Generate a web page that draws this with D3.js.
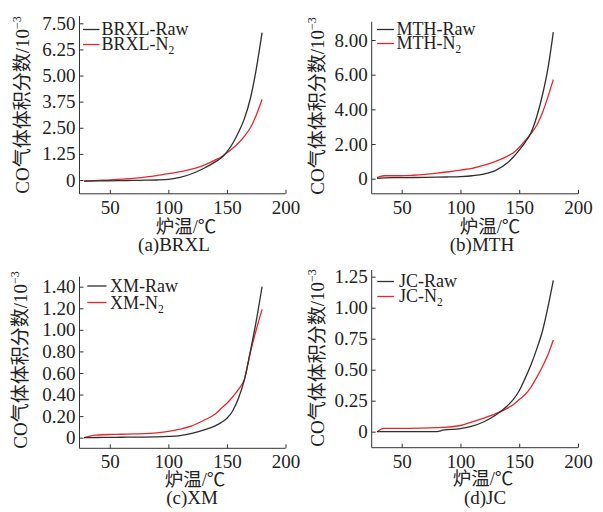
<!DOCTYPE html>
<html>
<head>
<meta charset="utf-8">
<script src="https://cdn.jsdelivr.net/npm/d3@7"></script>
<style>
  body { margin: 0; background: #fff; }
  svg text { font-family: "Liberation Serif", "Times New Roman", "Noto Sans CJK SC", serif; fill: #222; }
  .tick text { font-size: 19px; }
</style>
</head>
<body>
<svg id="chart" width="603" height="512"></svg>
<script>
// Furnace temperature (°C) and CO volume fraction (×10^-3) for four coal samples
const brxlTemp = [28, 40, 50, 60, 70, 80, 90, 100, 110, 120, 130, 140, 145, 150, 155, 160, 165, 170, 175, 180];
const brxlRaw  = [-0.05, -0.04, -0.04, -0.03, -0.02, -0.01, 0.0, 0.03, 0.12, 0.3, 0.55, 0.87, 1.05, 1.35, 1.76, 2.3, 2.95, 3.9, 5.3, 7.05];
const brxlN2   = [-0.05, -0.02, 0, 0.04, 0.08, 0.14, 0.21, 0.3, 0.4, 0.52, 0.7, 0.96, 1.1, 1.3, 1.52, 1.78, 2.1, 2.5, 3.1, 3.85];

const mthTemp = [29, 35, 50, 60, 70, 80, 90, 100, 110, 120, 130, 140, 145, 150, 155, 160, 165, 170, 175, 179];
const mthRaw  = [0.02, 0.05, 0.06, 0.07, 0.08, 0.09, 0.1, 0.12, 0.17, 0.27, 0.48, 0.92, 1.25, 1.65, 2.1, 2.65, 3.6, 4.9, 6.6, 8.45];
const mthN2   = [0.06, 0.17, 0.17, 0.2, 0.25, 0.32, 0.4, 0.5, 0.6, 0.78, 1.0, 1.3, 1.5, 1.8, 2.2, 2.6, 3.1, 3.85, 4.85, 5.72];

const xmTemp = [28, 35, 40, 50, 60, 70, 80, 90, 100, 110, 120, 130, 140, 145, 150, 155, 160, 165, 170, 175, 180];
const xmRaw  = [0, 0.001, 0.002, 0.003, 0.004, 0.005, 0.006, 0.008, 0.012, 0.02, 0.04, 0.07, 0.11, 0.14, 0.18, 0.25, 0.37, 0.54, 0.8, 1.08, 1.40];
const xmN2   = [0, 0.02, 0.025, 0.03, 0.032, 0.035, 0.037, 0.045, 0.058, 0.08, 0.11, 0.16, 0.22, 0.27, 0.32, 0.38, 0.45, 0.545, 0.79, 1.0, 1.19];

const jcTemp = [29, 35, 50, 65, 80, 85, 100, 110, 120, 130, 140, 145, 150, 155, 160, 165, 170, 175, 179];
const jcRaw  = [0, 0, 0, 0, 0, 0.012, 0.025, 0.045, 0.08, 0.135, 0.21, 0.26, 0.33, 0.43, 0.54, 0.67, 0.82, 1.03, 1.22];
const jcN2   = [0, 0.027, 0.027, 0.029, 0.033, 0.035, 0.05, 0.08, 0.11, 0.145, 0.19, 0.22, 0.26, 0.3, 0.36, 0.44, 0.53, 0.635, 0.74];

// Axis tick values
const tempTicks = [50, 100, 150, 200];
const brxlTicks = [0, 1.25, 2.5, 3.75, 5, 6.25, 7.5];
const mthTicks  = [0, 2, 4, 6, 8];
const xmTicks   = [0, 0.2, 0.4, 0.6, 0.8, 1.0, 1.2, 1.4];
const jcTicks   = [0, 0.25, 0.5, 0.75, 1.0, 1.25];

const sampleNames = ["BRXL", "MTH", "XM", "JC"];
const panelLetters = ["a", "b", "c", "d"];
const xTitle = "炉温/℃";
const yTitle = "CO气体体积分数/10";

const datasets = [
  { temp: brxlTemp, raw: brxlRaw, n2: brxlN2, ticks: brxlTicks },
  { temp: mthTemp,  raw: mthRaw,  n2: mthN2,  ticks: mthTicks },
  { temp: xmTemp,   raw: xmRaw,   n2: xmN2,   ticks: xmTicks },
  { temp: jcTemp,   raw: jcRaw,   n2: jcN2,   ticks: jcTicks }
];

// Panel geometry (pixels)
const layouts = [
  { axisX: 79.5,  x50: 109.8, x200: 285.5, bottom: 193.8, top: 16,    yZero: 180,   yTop: 23.3,  topVal: 7.5,
    titleX: 186, titleY: 233, labelX: 174, labelY: 251, yTitleX: 29, yTitleY: 105,
    legX0: 83, legX1: 99.5, legTextX: 101.5, legLineY: [29.5, 44.5], legBaseY: [35, 50] },
  { axisX: 371.7, x50: 401.7, x200: 578,   bottom: 193.8, top: 21.7,  yZero: 178.7, yTop: 40,    topVal: 8,
    titleX: 490, titleY: 233, labelX: 482, labelY: 251, yTitleX: 324, yTitleY: 106,
    legX0: 377, legX1: 394, legTextX: 396.5, legLineY: [29.5, 43.5], legBaseY: [35, 49] },
  { axisX: 79.5,  x50: 109.8, x200: 285.5, bottom: 448.3, top: 276.7, yZero: 437.7, yTop: 286.7, topVal: 1.4,
    titleX: 195, titleY: 486, labelX: 192, labelY: 504, yTitleX: 27, yTitleY: 360,
    legX0: 87.3, legX1: 106.5, legTextX: 110, legLineY: [286, 302.5], legBaseY: [292, 308.5] },
  { axisX: 371.7, x50: 401.7, x200: 578,   bottom: 447.7, top: 270,   yZero: 431.7, yTop: 276.7, topVal: 1.25,
    titleX: 483, titleY: 485, labelX: 485, labelY: 504, yTitleX: 324, yTitleY: 358,
    legX0: 377.3, legX1: 394, legTextX: 399, legLineY: [281.5, 296.5], legBaseY: [287, 302] }
];

const colorRaw = "#2e2e2e";
const colorN2 = "#e8262c";
const axisColor = "#333";

const svg = d3.select("#chart");

datasets.forEach((ds, i) => {
  const L = layouts[i];
  const name = sampleNames[i];
  const g = svg.append("g");

  const x = d3.scaleLinear().domain([50, 200]).range([L.x50, L.x200]);
  const y = d3.scaleLinear().domain([0, L.topVal]).range([L.yZero, L.yTop]);

  // Axis lines
  g.append("line").attr("x1", L.axisX).attr("x2", L.axisX).attr("y1", L.top).attr("y2", L.bottom)
    .attr("stroke", axisColor).attr("stroke-width", 1);
  g.append("line").attr("x1", L.axisX).attr("x2", L.x200).attr("y1", L.bottom).attr("y2", L.bottom)
    .attr("stroke", axisColor).attr("stroke-width", 1);

  // Y axis with inward ticks
  const yAxis = d3.axisLeft(y).tickValues(ds.ticks).tickSize(-4).tickPadding(4)
    .tickFormat(v => v === 0 ? "0" : v.toFixed(2));
  const yg = g.append("g").attr("transform", `translate(${L.axisX},0)`).call(yAxis);
  yg.select(".domain").remove();
  yg.selectAll(".tick line").attr("stroke", axisColor);

  // X axis with inward ticks
  const xAxis = d3.axisBottom(x).tickValues(tempTicks).tickSize(-4).tickPadding(6.5);
  const xg = g.append("g").attr("transform", `translate(0,${L.bottom})`).call(xAxis);
  xg.select(".domain").remove();
  xg.selectAll(".tick line").attr("stroke", axisColor);

  // Curves
  const line = d3.line().x(d => x(d[0])).y(d => y(d[1])).curve(d3.curveMonotoneX);
  const rawPts = ds.temp.map((t, k) => [t, ds.raw[k]]);
  const n2Pts = ds.temp.map((t, k) => [t, ds.n2[k]]);
  g.append("path").attr("d", line(n2Pts)).attr("fill", "none").attr("stroke", colorN2).attr("stroke-width", 1.3);
  g.append("path").attr("d", line(rawPts)).attr("fill", "none").attr("stroke", colorRaw).attr("stroke-width", 1.3);

  // Legend
  [colorRaw, colorN2].forEach((c, k) => {
    g.append("line").attr("x1", L.legX0).attr("x2", L.legX1)
      .attr("y1", L.legLineY[k]).attr("y2", L.legLineY[k])
      .attr("stroke", c).attr("stroke-width", 1.3);
    const t = g.append("text").attr("x", L.legTextX).attr("y", L.legBaseY[k]).attr("font-size", 18);
    if (k === 0) {
      t.text(name + "-Raw");
    } else {
      t.append("tspan").text(name + "-N");
      t.append("tspan").attr("font-size", 11.5).attr("dy", 4).text("2");
    }
  });

  // X axis title
  g.append("text").attr("x", L.titleX).attr("y", L.titleY).attr("text-anchor", "middle")
    .attr("font-size", 18.5).text(xTitle);

  // Panel caption
  g.append("text").attr("x", L.labelX).attr("y", L.labelY).attr("text-anchor", "middle")
    .attr("font-size", 19).text(`(${panelLetters[i]})${name}`);

  // Y axis title
  const yt = g.append("text")
    .attr("transform", `translate(${L.yTitleX},${L.yTitleY}) rotate(-90)`)
    .attr("text-anchor", "middle").attr("font-size", 19);
  yt.append("tspan").text(yTitle);
  yt.append("tspan").attr("font-size", 12).attr("dy", -8).text("−3");
});
</script>
</body>
</html>
